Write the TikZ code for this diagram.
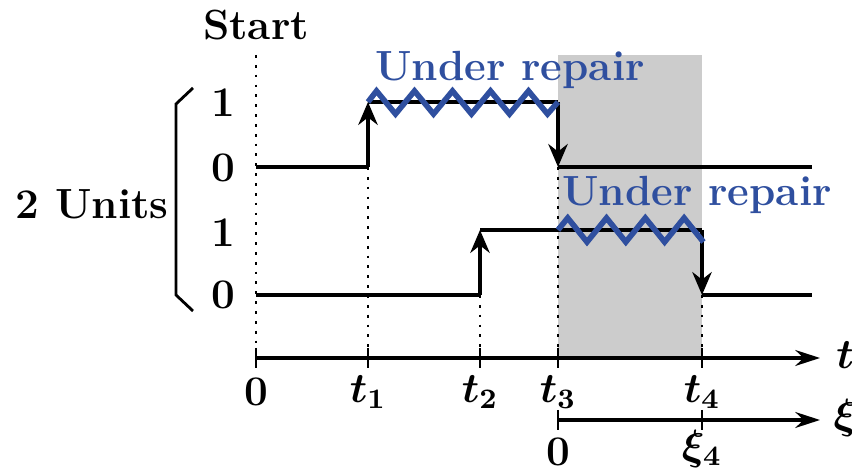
\documentclass[tikz,border=0pt]{standalone}
\usetikzlibrary{arrows.meta, calc}
\definecolor{cblue}{HTML}{2F4F9F}
\definecolor{cshade}{HTML}{CCCCCC}
\tikzset{
  every picture/.style={line width=0.9pt},
  lbl/.style={font=\fontsize{12}{14}\selectfont\bfseries\boldmath, inner sep=1pt},
  replbl/.style={lbl, text=cblue},
  level/.style={line width=1pt},
  jump/.style={-{Stealth[length=6.5pt, width=5.5pt]}, line width=1.2pt},
  guide/.style={dotted, line width=0.8pt},
  axis/.style={-{Stealth[length=7pt, width=4.5pt]}, line width=0.9pt},
  repair/.style={draw=cblue, line width=1.6pt, line join=miter},
}

\begin{document}
\begin{tikzpicture}[x=0.01cm, y=-0.01cm]
  \useasboundingbox (0,0) rectangle (852,471);
  \fill[cshade] (558,55) rectangle (702,358);
  % time axis
  \coordinate (o) at (256,358);
  \coordinate (a1) at (368,358);
  \coordinate (a2) at (480,358);
  \coordinate (a3) at (558,358);
  \coordinate (a4) at (702,358);
  \coordinate (aend) at (820,358);
  \coordinate (x0) at (558,420);
  \coordinate (x4) at (702,420);
  \coordinate (xend) at (820,420);
  % unit 1
  \coordinate (u1s) at (256,167);
  \coordinate (u1up) at (368,167);
  \coordinate (u1top) at (368,102);
  \coordinate (u1fall) at (558,102);
  \coordinate (u1down) at (558,167);
  \coordinate (u1end) at (812,167);
  % unit 2
  \coordinate (u2s) at (256,295);
  \coordinate (u2up) at (480,295);
  \coordinate (u2top) at (480,230);
  \coordinate (u2rep) at (558,230);
  \coordinate (u2fall) at (702,230);
  \coordinate (u2down) at (702,295);
  \coordinate (u2end) at (812,295);
  \coordinate (start) at (256,55);

  \draw[guide] (start) -- (o);
  \draw[guide] (u1up) -- (a1);
  \draw[guide] (u2up) -- (a2);
  \draw[guide] (u1down) -- (a3);
  \draw[guide] (u2down) -- (a4);

  \draw[level] (u1s) -- (u1up);
  \draw[jump] (u1up) -- (u1top);
  \draw[level] (u1top) -- (u1fall);
  \draw[jump] (u1fall) -- (u1down);
  \draw[level] (u1down) -- (u1end);

  \draw[level] (u2s) -- (u2up);
  \draw[jump] (u2up) -- (u2top);
  \draw[level] (u2top) -- (u2fall);
  \draw[jump] (u2fall) -- (u2down);
  \draw[level] (u2down) -- (u2end);

  \draw[repair] (u1top) \foreach \i in {0,...,4} {-- ({376.5+38*\i},91) -- ({395.5+38*\i},114)} -- (u1fall);
  \draw[repair] (u2rep) \foreach \i in {0,...,3} {-- ({567.7+38.8*\i},218) -- ({587+38.8*\i},242)};

  \draw[axis] (o) -- (aend);
  \draw[axis] (x0) -- (xend);
  \foreach \p in {o,a1,a2,a3,a4,x0,x4}
    \draw[line width=0.8pt] ($(\p)+(0,-10)$) -- ($(\p)+(0,10)$);

  \draw[line width=0.8pt] (193,88) -- (176,104) -- (176,295) -- (193,311);

  \node[lbl] (lstart) at (256,25) {Start};
  \node[lbl] (lunits) at (92,204) {2 Units};
  \node[lbl] (l1a) at (223,103) {1};
  \node[lbl] (l0a) at (223,168) {0};
  \node[lbl] (l1b) at (223,233) {1};
  \node[lbl] (l0b) at (223,295) {0};
  \node[replbl] (rep1) at (510,70) {Under repair};
  \node[replbl] (rep2) at (697,195) {Under repair};

  \node[lbl] (t0) at (256,392) {$0$};
  \node[lbl] (t1) at (368,392) {$t_1$};
  \node[lbl] (t2) at (480,392) {$t_2$};
  \node[lbl] (t3) at (558,392) {$t_3$};
  \node[lbl] (t4) at (702,392) {$t_4$};
  \node[lbl] (tlab) at (845,355) {$t$};
  \node[lbl] (xi0) at (558,452) {$0$};
  \node[lbl] (xi4) at (702,449) {$\xi_4$};
  \node[lbl] (xilab) at (845,418) {$\xi$};
\end{tikzpicture}
\end{document}
